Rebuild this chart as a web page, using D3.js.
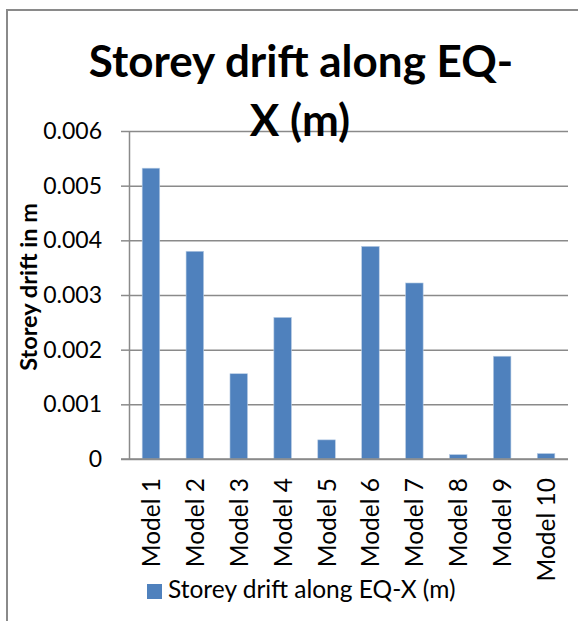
<!DOCTYPE html>
<html>
<head>
<meta charset="utf-8">
<title>Storey drift along EQ-X</title>
<script src="https://cdn.jsdelivr.net/npm/d3@7"></script>
<style>
  body { margin: 0; background: #fff; }
  svg text { font-family: Lato, "Open Sans", sans-serif; fill: #000; }
</style>
</head>
<body>
<div id="chart"></div>
<script>
// chart data
var categories = ["Model 1", "Model 2", "Model 3", "Model 4", "Model 5",
                  "Model 6", "Model 7", "Model 8", "Model 9", "Model 10"];
var drift = [0.00532, 0.0038, 0.00156, 0.00259, 0.00035,
             0.00389, 0.00322, 0.00008, 0.00188, 0.0001];
var yTicks = [0, 0.001, 0.002, 0.003, 0.004, 0.005, 0.006];
var seriesName = "Storey drift along EQ-X (m)";

var width = 578, height = 621;
var plot = { left: 129, right: 568, top: 131, bottom: 459 };

var svg = d3.select("#chart").append("svg")
    .attr("width", width)
    .attr("height", height);

// chart border (runs off the right and bottom edges)
svg.append("rect")
    .attr("x", 7).attr("y", 10)
    .attr("width", 640).attr("height", 700)
    .attr("fill", "none")
    .attr("stroke", "#8a8a8a")
    .attr("stroke-width", 2);

var x = d3.scaleBand()
    .domain(categories)
    .range([plot.left, plot.right])
    .paddingInner(0.6)
    .paddingOuter(0.3);

var y = d3.scaleLinear()
    .domain([0, 0.006])
    .range([plot.bottom, plot.top]);

var fmt = function(d) { return d === 0 ? "0" : d3.format(".3f")(d); };

// gridlines
var grid = svg.append("g")
    .attr("transform", "translate(" + plot.left + ",0)")
    .call(d3.axisLeft(y).tickValues(yTicks).tickSize(-(plot.right - plot.left)).tickFormat(""));
grid.select(".domain").remove();
grid.selectAll("line").attr("stroke", "#8a8a8a").attr("stroke-width", 1.5);

// y axis with outside ticks
var yAxis = svg.append("g")
    .attr("transform", "translate(" + plot.left + ",0)")
    .call(d3.axisLeft(y).tickValues(yTicks).tickSize(8).tickSizeOuter(0).tickPadding(19).tickFormat(fmt));
yAxis.select(".domain").attr("stroke", "#8a8a8a").attr("stroke-width", 1.5);
yAxis.selectAll("line").attr("stroke", "#8a8a8a").attr("stroke-width", 1.5);
yAxis.selectAll("text")
    .style("font-size", "23px")
    .attr("fill", "#000");

// bars
svg.append("g").selectAll("rect")
    .data(drift)
    .enter().append("rect")
    .attr("x", function(d, i) { return x(categories[i]); })
    .attr("y", function(d) { return y(d); })
    .attr("width", x.bandwidth())
    .attr("height", function(d) { return y(0) - y(d); })
    .attr("fill", "#4f81bd")
    .attr("stroke", "#b9cde5")
    .attr("stroke-width", 0.6);

// x axis baseline
svg.append("line")
    .attr("x1", plot.left - 8).attr("x2", plot.right)
    .attr("y1", y(0)).attr("y2", y(0))
    .attr("stroke", "#8a8a8a").attr("stroke-width", 1.5);

// category labels, rotated
svg.append("g").selectAll("text")
    .data(categories)
    .enter().append("text")
    .attr("transform", function(d) {
        return "translate(" + (x(d) + x.bandwidth() / 2 + 9) + ",478) rotate(-90)";
    })
    .attr("text-anchor", "end")
    .style("font-size", "24.5px")
    .text(function(d) { return d; });

// title
var title = svg.append("text")
    .attr("x", 301)
    .attr("text-anchor", "middle")
    .style("font-size", "44px")
    .style("font-weight", "bold");
title.append("tspan").attr("x", 301).attr("y", 77).text("Storey drift along EQ-");
title.append("tspan").attr("x", 300).attr("y", 136).text("X (m)");

// y axis title
svg.append("text")
    .attr("transform", "translate(37,287) rotate(-90)")
    .attr("text-anchor", "middle")
    .style("font-size", "23.5px")
    .style("font-weight", "bold")
    .text("Storey drift in m");

// legend
var legend = svg.append("g");
legend.append("rect")
    .attr("x", 147).attr("y", 584)
    .attr("width", 15).attr("height", 15)
    .attr("fill", "#4f81bd");
legend.append("text")
    .attr("x", 168).attr("y", 598)
    .style("font-size", "24.5px")
    .text(seriesName);
</script>
</body>
</html>
